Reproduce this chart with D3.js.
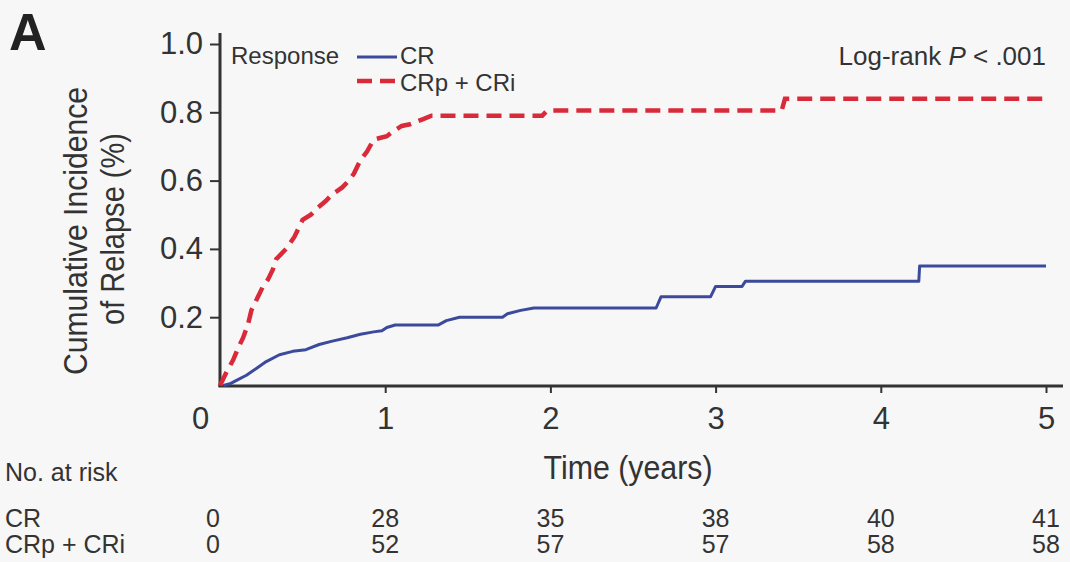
<!DOCTYPE html>
<html>
<head>
<meta charset="utf-8">
<script src="https://cdn.jsdelivr.net/npm/d3@7"></script>
<style>
  html, body { margin: 0; padding: 0; background: #f7f7f7; }
  svg { display: block; }
  text { font-family: "Liberation Sans", Arial, Helvetica, sans-serif; fill: #333; }
</style>
</head>
<body>
<svg id="chart" width="1070" height="562"></svg>
<script>
// Cumulative incidence of relapse: time in years, cumulative incidence
const crTimes  = [0.02, 0.06, 0.10, 0.16, 0.22, 0.28, 0.36, 0.44, 0.52, 0.60, 0.68, 0.77, 0.85, 0.93, 0.98, 1.01, 1.06, 1.32, 1.37, 1.45, 1.71, 1.74, 1.82, 1.90, 2.64, 2.67, 2.97, 3.00, 3.16, 3.18, 4.23, 4.235, 5.0];
const crValues = [0, 0.005, 0.015, 0.03, 0.05, 0.07, 0.09, 0.10, 0.105, 0.12, 0.13, 0.14, 0.15, 0.157, 0.16, 0.17, 0.177, 0.177, 0.19, 0.20, 0.20, 0.21, 0.22, 0.227, 0.227, 0.26, 0.26, 0.29, 0.29, 0.305, 0.305, 0.35, 0.35];

const crpTimes  = [0, 0.04, 0.08, 0.11, 0.14, 0.17, 0.19, 0.23, 0.26, 0.29, 0.32, 0.34, 0.40, 0.45, 0.50, 0.55, 0.59, 0.64, 0.68, 0.74, 0.78, 0.81, 0.85, 0.89, 0.93, 1.01, 1.05, 1.10, 1.15, 1.23, 1.28, 1.95, 1.98, 3.40, 3.42, 5.0];
const crpValues = [0, 0.04, 0.075, 0.11, 0.14, 0.18, 0.22, 0.26, 0.29, 0.31, 0.34, 0.37, 0.40, 0.435, 0.485, 0.50, 0.52, 0.54, 0.56, 0.58, 0.60, 0.62, 0.66, 0.685, 0.72, 0.73, 0.745, 0.76, 0.765, 0.78, 0.79, 0.79, 0.805, 0.805, 0.84, 0.84];

// Axis ticks
const xTicks = [0, 1, 2, 3, 4, 5];
const yTicks = [0.2, 0.4, 0.6, 0.8, 1.0];

// Number at risk table
const riskTimes = [0, 1, 2, 3, 4, 5];
const riskCR = [0, 28, 35, 38, 40, 41];
const riskCRpCRi = [0, 52, 57, 57, 58, 58];

const svg = d3.select("#chart");
const colCR = "#3c4a9c";
const colCRp = "#d92a3a";
const axisCol = "#333";

const x = d3.scaleLinear().domain([0, 5]).range([220, 1046]);
const y = d3.scaleLinear().domain([0, 1]).range([385.5, 44]);

// Panel letter
svg.append("text").attr("x", 9).attr("y", 50)
  .style("font-size", "52px").style("font-weight", "bold").style("fill", "#222").text("A");

// Y axis
const yAxis = d3.axisLeft(y).tickValues(yTicks).tickSize(10).tickPadding(7)
  .tickFormat(d3.format(".1f"));
const gy = svg.append("g").attr("transform", "translate(220,0)").call(yAxis);
gy.select(".domain").remove();
gy.selectAll(".tick line").attr("stroke", axisCol).attr("stroke-width", 2);
gy.selectAll(".tick text").style("font-size", "31px").attr("fill", "#333")
  .attr("font-family", "Liberation Sans, Arial, sans-serif");
svg.append("line").attr("x1", 220).attr("x2", 220).attr("y1", 33).attr("y2", 387)
  .attr("stroke", axisCol).attr("stroke-width", 3);

// X axis
const xAxis = d3.axisBottom(x).tickValues(xTicks).tickSize(7).tickPadding(14).tickFormat(d3.format("d"));
const gx = svg.append("g").attr("transform", "translate(0,386)").call(xAxis);
gx.select(".domain").remove();
gx.selectAll(".tick line").attr("stroke", axisCol).attr("stroke-width", 2)
  .filter(d => d === 0).remove();
gx.selectAll(".tick text").style("font-size", "31px").attr("fill", "#333")
  .attr("font-family", "Liberation Sans, Arial, sans-serif")
  .attr("dx", d => d === 0 ? -20 : 0);
svg.append("line").attr("x1", 218.5).attr("x2", 1063).attr("y1", 386).attr("y2", 386)
  .attr("stroke", axisCol).attr("stroke-width", 3);

// Axis titles
const yl = svg.append("g").attr("transform", "translate(0,231) rotate(-90)");
yl.append("text").attr("x", 0).attr("y", 87).attr("text-anchor", "middle")
  .style("font-size", "34px").attr("textLength", 288).attr("lengthAdjust", "spacingAndGlyphs")
  .text("Cumulative Incidence");
yl.append("text").attr("x", 2).attr("y", 124).attr("text-anchor", "middle")
  .style("font-size", "34px").attr("textLength", 192).attr("lengthAdjust", "spacingAndGlyphs")
  .text("of Relapse (%)");

svg.append("text").attr("x", 628).attr("y", 479).attr("text-anchor", "middle")
  .style("font-size", "33px").attr("textLength", 169).attr("lengthAdjust", "spacingAndGlyphs")
  .text("Time (years)");

// Curves
const line = d3.line().x(d => x(d[0])).y(d => y(d[1])).curve(d3.curveLinear);
const crData = crTimes.map((t, i) => [t, crValues[i]]);
const crpData = crpTimes.map((t, i) => [t, crpValues[i]]);

svg.append("path").datum(crData).attr("d", line)
  .attr("fill", "none").attr("stroke", colCR).attr("stroke-width", 3)
  .attr("stroke-linejoin", "round");
svg.append("path").datum(crpData).attr("d", line)
  .attr("fill", "none").attr("stroke", colCRp).attr("stroke-width", 4.5)
  .attr("stroke-dasharray", "15,8");

// Legend
svg.append("text").attr("x", 231).attr("y", 64).style("font-size", "24px").text("Response");
svg.append("line").attr("x1", 357).attr("x2", 397).attr("y1", 57).attr("y2", 57)
  .attr("stroke", colCR).attr("stroke-width", 3);
svg.append("text").attr("x", 400).attr("y", 64).style("font-size", "24px").text("CR");
svg.append("line").attr("x1", 357).attr("x2", 397).attr("y1", 81).attr("y2", 81)
  .attr("stroke", colCRp).attr("stroke-width", 4.5).attr("stroke-dasharray", "15,8");
svg.append("text").attr("x", 400).attr("y", 91).style("font-size", "24px").text("CRp + CRi");

// Test annotation
const lr = svg.append("text").attr("x", 1046).attr("y", 65).attr("text-anchor", "end")
  .style("font-size", "26px");
lr.append("tspan").text("Log-rank ");
lr.append("tspan").style("font-style", "italic").text("P");
lr.append("tspan").text(" < .001");

// Number at risk table
svg.append("text").attr("x", 5).attr("y", 481).style("font-size", "25px").text("No. at risk");
const rows = [
  { label: "CR", values: riskCR, yb: 527 },
  { label: "CRp + CRi", values: riskCRpCRi, yb: 553 }
];
rows.forEach(r => {
  svg.append("text").attr("x", 5).attr("y", r.yb).style("font-size", "25px").text(r.label);
  svg.selectAll(null).data(riskTimes).enter().append("text")
    .attr("x", (t) => x(t) + (t === 0 ? -7 : 0))
    .attr("y", r.yb).attr("text-anchor", "middle").style("font-size", "25px")
    .text((t, i) => r.values[i]);
});
</script>
</body>
</html>
